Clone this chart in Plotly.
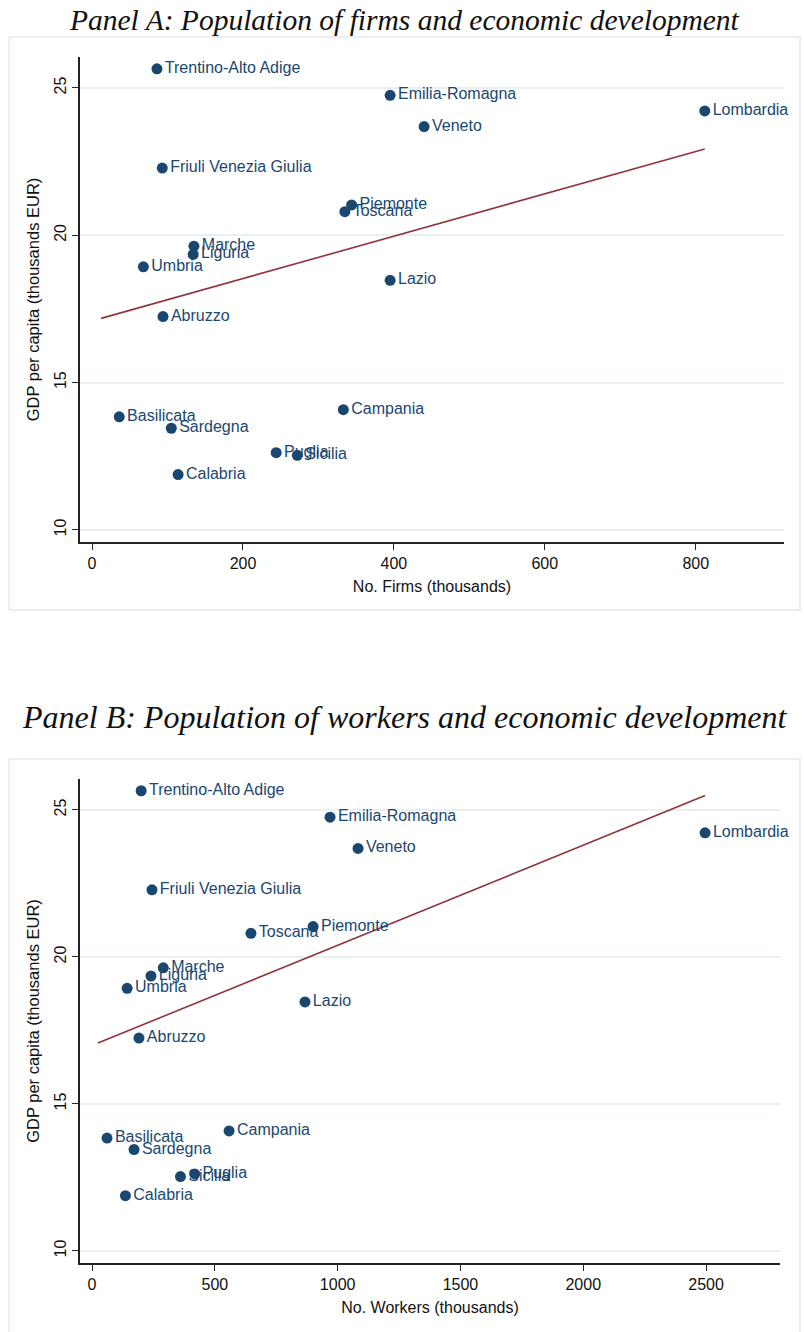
import plotly.graph_objects as go

# Italian regions: GDP per capita (thousands EUR), firms and workers (thousands)
regions = ["Trentino-Alto Adige", "Emilia-Romagna", "Lombardia", "Veneto",
           "Friuli Venezia Giulia", "Piemonte", "Toscana", "Marche", "Liguria",
           "Umbria", "Lazio", "Abruzzo", "Campania", "Basilicata", "Sardegna",
           "Puglia", "Sicilia", "Calabria"]
gdp_pc = [25.65, 24.75, 24.22, 23.69, 22.28, 21.03, 20.80, 19.63, 19.35,
          18.93, 18.47, 17.24, 14.08, 13.84, 13.45, 12.62, 12.53, 11.88]
firms = [86, 395, 812, 440, 93, 344, 335, 135, 134,
         68, 395, 94, 333, 36, 105, 244, 272, 114]
workers = [200, 969, 2496, 1083, 244, 900, 647, 290, 240,
           143, 867, 191, 558, 61, 171, 418, 360, 136]

# Linear fit endpoints for each panel
fit_firms_x = [12, 812]
fit_firms_y = [17.18, 22.93]
fit_workers_x = [24, 2496]
fit_workers_y = [17.07, 25.49]

W, H = 804, 1332
NAVY = "#1a476f"
MAROON = "#90353b"
GRID = "#e9f0f1"
AXIS = "#222222"


def px(x):
    return x / W


def py(y):
    return 1 - y / H


fig = go.Figure()

labelfont = dict(family="Liberation Sans, Arial", size=16, color=NAVY)

fig.add_trace(go.Scatter(x=fit_firms_x, y=fit_firms_y, mode="lines",
                         line=dict(color=MAROON, width=1.6),
                         xaxis="x", yaxis="y", hoverinfo="skip"))
fig.add_trace(go.Scatter(x=firms, y=gdp_pc, mode="markers+text", text=regions,
                         textposition="middle right", textfont=labelfont,
                         marker=dict(color=NAVY, size=11), cliponaxis=False,
                         xaxis="x", yaxis="y"))
fig.add_trace(go.Scatter(x=fit_workers_x, y=fit_workers_y, mode="lines",
                         line=dict(color=MAROON, width=1.6),
                         xaxis="x2", yaxis="y2", hoverinfo="skip"))
fig.add_trace(go.Scatter(x=workers, y=gdp_pc, mode="markers+text", text=regions,
                         textposition="middle right", textfont=labelfont,
                         marker=dict(color=NAVY, size=11), cliponaxis=False,
                         xaxis="x2", yaxis="y2"))

tickfont = dict(family="Liberation Sans, Arial", size=16, color="#111111")
xtitlefont = dict(family="Liberation Sans, Arial", size=16, color="#111111")
ytitlefont = dict(family="Liberation Sans, Arial", size=16.5, color="#111111")

xcommon = dict(showline=True, linecolor=AXIS, linewidth=1.5, ticks="outside",
               ticklen=6, tickcolor=AXIS, tickwidth=1.2, showgrid=False,
               zeroline=False, tickfont=tickfont, title_font=xtitlefont,
               title_standoff=10)
ycommon = dict(showline=True, linecolor=AXIS, linewidth=1.5, ticks="outside",
               ticklen=6, tickcolor=AXIS, tickwidth=1.2, showgrid=True,
               gridcolor=GRID, gridwidth=1.5, zeroline=False, tickangle=-90,
               tickfont=tickfont, title_font=ytitlefont, range=[9.59, 26.05],
               tickvals=[10, 15, 20, 25], title_standoff=8)

fig.update_layout(
    width=W, height=H,
    margin=dict(l=0, r=0, t=0, b=0),
    paper_bgcolor="white", plot_bgcolor="white",
    showlegend=False,
    xaxis=dict(domain=[px(80), px(784)], anchor="y", range=[-16, 917],
               tickvals=[0, 200, 400, 600, 800],
               title_text="No. Firms (thousands)", **xcommon),
    yaxis=dict(domain=[py(542), py(57)], anchor="x",
               title_text="GDP per capita (thousands EUR)", **ycommon),
    xaxis2=dict(domain=[px(80), px(780)], anchor="y2", range=[-49, 2801],
                tickvals=[0, 500, 1000, 1500, 2000, 2500],
                title_text="No. Workers (thousands)", **xcommon),
    yaxis2=dict(domain=[py(1263), py(779)], anchor="x2",
                title_text="GDP per capita (thousands EUR)", **ycommon),
    shapes=[
        dict(type="rect", xref="paper", yref="paper",
             x0=px(9), x1=px(800), y0=py(610), y1=py(37),
             line=dict(color="#e3ecee", width=1.5), layer="below"),
        dict(type="rect", xref="paper", yref="paper",
             x0=px(9), x1=px(800), y0=py(1345), y1=py(759),
             line=dict(color="#e3ecee", width=1.5), layer="below"),
    ],
    annotations=[
        dict(text="<i>Panel A: Population of firms and economic development</i>",
             xref="paper", yref="paper", x=px(405), y=py(20),
             xanchor="center", yanchor="middle", showarrow=False,
             font=dict(family="Liberation Serif, Times New Roman", size=29.5, color="#111111")),
        dict(text="<i>Panel B: Population of workers and economic development</i>",
             xref="paper", yref="paper", x=px(404), y=py(717),
             xanchor="center", yanchor="middle", showarrow=False,
             font=dict(family="Liberation Serif, Times New Roman", size=32, color="#111111")),
    ],
)

fig.write_html("out.html")
